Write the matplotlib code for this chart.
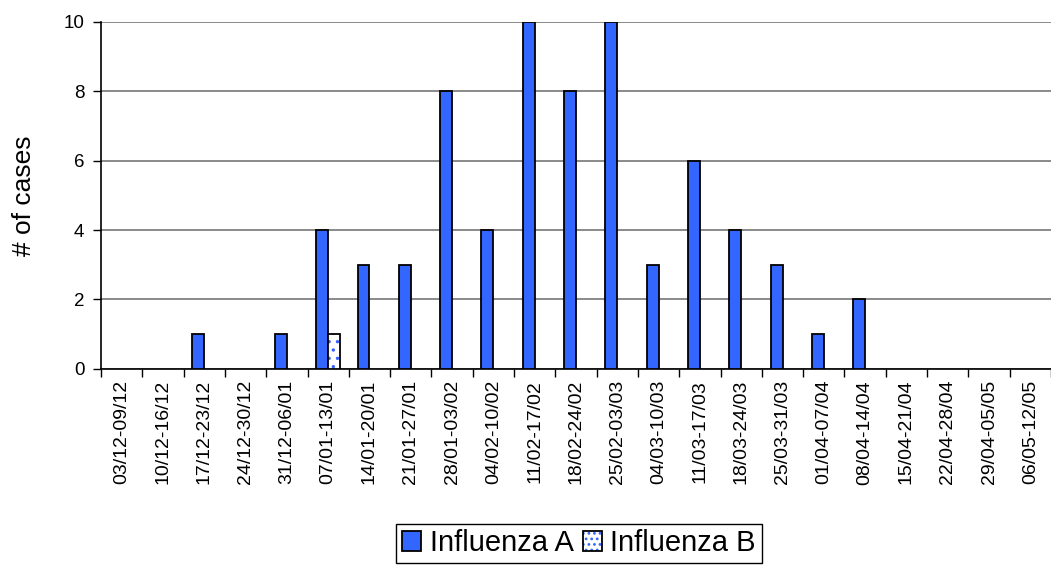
import numpy as np
from matplotlib import pyplot as plt
from matplotlib.patches import Patch
from matplotlib.legend_handler import HandlerTuple

weeks = ['03/12-09/12', '10/12-16/12', '17/12-23/12', '24/12-30/12', '31/12-06/01',
         '07/01-13/01', '14/01-20/01', '21/01-27/01', '28/01-03/02', '04/02-10/02',
         '11/02-17/02', '18/02-24/02', '25/02-03/03', '04/03-10/03', '11/03-17/03',
         '18/03-24/03', '25/03-31/03', '01/04-07/04', '08/04-14/04', '15/04-21/04',
         '22/04-28/04', '29/04-05/05', '06/05-12/05']
influenza_a = [0, 0, 1, 0, 1, 4, 3, 3, 8, 4, 10, 8, 10, 3, 6, 4, 3, 1, 2, 0, 0, 0, 0]
influenza_b = [0, 0, 0, 0, 0, 1, 0, 0, 0, 0, 0, 0, 0, 0, 0, 0, 0, 0, 0, 0, 0, 0, 0]
yticks = [0, 2, 4, 6, 8, 10]

plt.rcParams['font.family'] = ['Liberation Sans', 'DejaVu Sans']
plt.rcParams['hatch.linewidth'] = 1.2

blue = '#3366ff'

fig = plt.figure(figsize=(10.51, 5.71), dpi=100)
ax = fig.add_axes([0.0961, 0.354, 0.9039, 0.6075])

x = np.arange(len(weeks))
w = 0.29
a_vals = np.array(influenza_a)
b_vals = np.array(influenza_b)
ax.bar(x[a_vals > 0] - w / 2, a_vals[a_vals > 0], width=w, color=blue,
       edgecolor='black', linewidth=1.3, zorder=3)
# dotted fill for B, then black outline on top
ax.bar(x[b_vals > 0] + w / 2, b_vals[b_vals > 0], width=w, color='white',
       edgecolor=blue, linewidth=0, hatch='..', zorder=3)
ax.bar(x[b_vals > 0] + w / 2, b_vals[b_vals > 0], width=w, fill=False,
       edgecolor='black', linewidth=1.3, zorder=4)

ax.set_xlim(-0.5, 22.28)
ax.set_ylim(0, 10)
ax.set_yticks(yticks)
ax.set_yticklabels([str(v) for v in yticks], fontsize=13.5)
ax.yaxis.grid(True, color='#777777', linewidth=1.2, zorder=0)
ax.set_axisbelow(True)

ax.set_xticks(x)
ax.set_xticklabels(weeks, rotation=90, fontsize=14)
ax.tick_params(axis='x', which='major', length=0, pad=8)
ax.set_xticks(np.arange(len(weeks) + 1) - 0.5, minor=True)
ax.tick_params(axis='x', which='minor', length=6, width=1, direction='out')
ax.tick_params(axis='y', length=6, width=1, direction='out', pad=6)

for s in ['top', 'right']:
    ax.spines[s].set_visible(False)
ax.spines['left'].set_linewidth(1.2)
ax.spines['bottom'].set_linewidth(1.2)

ax.set_ylabel('# of cases', fontsize=19, labelpad=20)

h_a = Patch(facecolor=blue, edgecolor='black', linewidth=1.3)
h_b_fill = Patch(facecolor='white', edgecolor=blue, linewidth=0, hatch='...')
h_b_line = Patch(fill=False, edgecolor='black', linewidth=1.3)
fig.legend([h_a, (h_b_fill, h_b_line)], ['Influenza A', 'Influenza B'],
           handler_map={tuple: HandlerTuple(ndivide=1, pad=0)},
           loc='upper center', bbox_to_anchor=(0.551, 0.083), ncol=2, fontsize=21,
           frameon=True, fancybox=False, edgecolor='black', framealpha=1,
           handlelength=0.65, handleheight=0.65, handletextpad=0.3,
           columnspacing=0.3, borderpad=0.2, borderaxespad=0)

fig.savefig('out.png', dpi=100)
